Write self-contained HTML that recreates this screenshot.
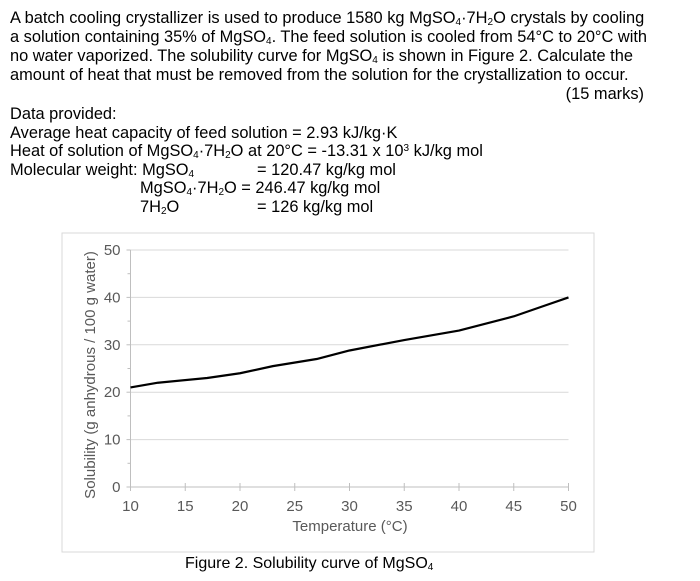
<!DOCTYPE html>
<html><head><meta charset="utf-8">
<style>
body{margin:0;width:700px;height:581px;background:#fff;position:relative;overflow:hidden;font-family:"Liberation Sans",sans-serif;color:#000}
.t{position:absolute;font-size:16.4px;white-space:nowrap;line-height:19px}
sub{font-size:10px;vertical-align:-2px;line-height:0}
sup{font-size:10px;vertical-align:5px;line-height:0}
</style></head><body>
<div class="t" style="left:10px;top:9px">A batch cooling crystallizer is used to produce 1580 kg MgSO<sub>4</sub>·7H<sub>2</sub>O crystals by cooling</div>
<div class="t" style="left:10px;top:28px">a solution containing 35% of MgSO<sub>4</sub>. The feed solution is cooled from 54°C to 20°C with</div>
<div class="t" style="left:10px;top:47px">no water vaporized. The solubility curve for MgSO<sub>4</sub> is shown in Figure 2. Calculate the</div>
<div class="t" style="left:10px;top:66px">amount of heat that must be removed from the solution for the crystallization to occur.</div>
<div class="t" style="right:56px;top:85px">(15 marks)</div>
<div class="t" style="left:10px;top:105px">Data provided:</div>
<div class="t" style="left:10px;top:124px">Average heat capacity of feed solution = 2.93 kJ/kg·K</div>
<div class="t" style="left:10px;top:142px">Heat of solution of MgSO<sub>4</sub>·7H<sub>2</sub>O at 20°C = -13.31 x 10<sup>3</sup> kJ/kg mol</div>
<div class="t" style="left:10px;top:161px">Molecular weight: MgSO<sub>4</sub></div>
<div class="t" style="left:257px;top:161px">= 120.47 kg/kg mol</div>
<div class="t" style="left:140px;top:179px">MgSO<sub>4</sub>·7H<sub>2</sub>O = 246.47 kg/kg mol</div>
<div class="t" style="left:140px;top:198px">7H<sub>2</sub>O</div>
<div class="t" style="left:257px;top:198px">= 126 kg/kg mol</div>

<svg id="chart" style="position:absolute;left:0;top:0" width="700" height="581"></svg>
<div class="t" style="left:185px;top:554px;font-size:16px">Figure 2. Solubility curve of MgSO<sub>4</sub></div>
<script>
const temps=[10,12.5,17,20,23,27,30,35,40,45,47.5,50];
const solubility=[21,22,23,24,25.5,27,28.8,31,33,36,38,40];
const xTicks=[10,15,20,25,30,35,40,45,50];
const yTicks=[0,10,20,30,40,50];
const NS="http://www.w3.org/2000/svg";
const svg=document.getElementById('chart');
const X=v=>130.5+(v-10)*(568.5-130.5)/40;
const Y=v=>487-v*(487-250)/50;
function mk(t,a){const e=document.createElementNS(NS,t);for(const k in a)e.setAttribute(k,a[k]);svg.appendChild(e);return e;}
const frame=mk('rect',{x:62,y:233,width:532,height:319,fill:'none',stroke:'#d9d9d9','stroke-width':1});


yTicks.forEach(v=>{
 const g=mk('line',{x1:X(10),x2:X(50),y1:Y(v),y2:Y(v),stroke:v===0?'#bfbfbf':'#d9d9d9','stroke-width':1});
 
 
 const tk=mk('line',{x1:X(10)-4,x2:X(10),y1:Y(v),y2:Y(v),stroke:'#bfbfbf'});
 
 
 const t=mk('text',{x:X(10)-10,y:Y(v)+5,'text-anchor':'end','font-size':15,fill:'#595959','font-family':'Liberation Sans, sans-serif'});
 t.textContent=v;
 
 
});
for(let v=5;v<50;v+=10){const m=mk('line',{x1:X(10)-3,x2:X(10),y1:Y(v),y2:Y(v),stroke:'#bfbfbf'});
 
 }
mk('line',{x1:X(10),x2:X(10),y1:Y(0),y2:Y(50),stroke:'#bfbfbf'});
xTicks.forEach(v=>{
 const tk=mk('line',{x1:X(v),x2:X(v),y1:Y(0)-4,y2:Y(0)+4,stroke:'#bfbfbf'});
 
 
 const t=mk('text',{x:X(v),y:Y(0)+24,'text-anchor':'middle','font-size':15,fill:'#595959','font-family':'Liberation Sans, sans-serif'});
 t.textContent=v;
 
 
});
const xt=mk('text',{x:350,y:531,'text-anchor':'middle','font-size':15,fill:'#595959','font-family':'Liberation Sans, sans-serif'});
xt.textContent='Temperature (°C)';


const yt=mk('text',{x:0,y:0,'text-anchor':'middle','font-size':15,fill:'#595959','font-family':'Liberation Sans, sans-serif',transform:'translate(95,375) rotate(-90)'});
yt.textContent='Solubility (g anhydrous / 100 g water)';


const line=mk('polyline',{points:temps.map((t,i)=>X(t)+','+Y(solubility[i])).join(' '),fill:'none',stroke:'#000','stroke-width':2.2,'stroke-linejoin':'round'});


</script>
</body></html>
